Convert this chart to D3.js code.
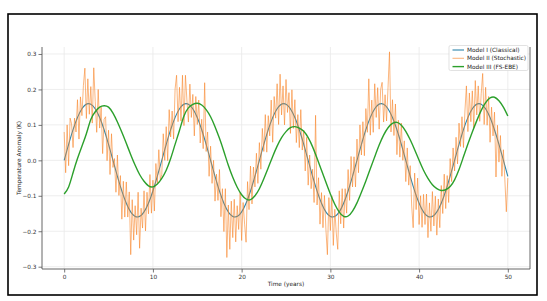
<!DOCTYPE html>
<html><head><meta charset="utf-8">
<script src="https://cdn.jsdelivr.net/npm/d3@7"></script>
<style>body{margin:0;background:#fff} text{font-family:"DejaVu Sans",sans-serif}</style>
</head><body><svg id="c" width="547" height="301"></svg>
<script>
const xTicks = [0, 10, 20, 30, 40, 50];
const yTicks = [-0.3, -0.2, -0.1, 0.0, 0.1, 0.2, 0.3];
const seriesNames = ["Model I (Classical)", "Model II (Stochastic)", "Model III (FS-EBE)"];
const seriesColors = ["#2e86ab", "#f8862a", "#2ca02c"];
const xLabel = "Time (years)";
const yLabel = "Temperature Anomaly (K)";

// Model I: yearly samples, t = 0..50
const modelIValues = [0,0.0865,0.1455,0.1584,0.1209,0.0451,-0.0451,-0.1209,-0.1584,-0.1455,-0.0865,
0,0.0865,0.1455,0.1584,0.1209,0.0451,-0.0451,-0.1209,-0.1584,-0.1455,-0.0865,
0,0.0865,0.1455,0.1584,0.1209,0.0451,-0.0451,-0.1209,-0.1584,-0.1455,-0.0865,
0,0.0865,0.1455,0.1584,0.1209,0.0451,-0.0451,-0.1209,-0.1584,-0.1455,-0.0865,
0,0.0865,0.1455,0.1584,0.1209,0.0451,-0.0451];

// Model II: samples every 2 months, t = 0..50
const modelIIValues = [
0.08,-0.035,0.10,-0.015,0.119,0.103,0.036,0.119,0.08,0.171,0.06,0.179,0.126,0.211,0.26,0.118,0.23,0.13,0.208,0.105,0.261,0.166,0.079,0.20,0.091,0.15,0.019,0.116,0.123,-0.001,0.085,-0.04,0.075,-0.02,0.005,-0.09,0.015,-0.099,-0.043,-0.166,-0.059,-0.16,-0.061,-0.16,-0.089,-0.266,-0.111,-0.225,-0.128,-0.21,-0.09,-0.248,-0.135,-0.191,-0.086,-0.199,-0.09,-0.151,-0.04,-0.149,-0.056,-0.143,-0.009,-0.065,0.03,-0.055,
-0.04,0.075,0.0,0.095,-0.001,0.143,0.066,0.139,0.06,0.201,0.24,0.109,0.206,0.111,0.24,0.098,0.24,0.17,0.108,0.215,0.121,0.186,0.069,0.18,0.101,0.17,0.049,0.116,0.033,0.219,0.025,0.08,-0.045,0.04,-0.065,0.0,-0.115,-0.039,-0.113,-0.026,-0.159,-0.08,-0.201,-0.08,-0.274,-0.126,-0.251,-0.115,-0.218,-0.11,-0.23,-0.128,-0.195,-0.091,-0.226,-0.119,-0.18,-0.231,-0.06,-0.139,-0.016,-0.123,-0.019,-0.075,0.02,-0.065,
0.05,-0.025,0.09,0.025,0.129,0.023,0.126,0.069,0.17,0.051,0.18,0.119,0.216,0.101,0.243,0.128,0.21,0.10,0.228,0.135,0.191,0.076,0.199,0.09,0.171,0.05,0.129,0.036,0.143,0.029,0.085,-0.03,0.065,-0.07,0.015,-0.08,-0.025,-0.119,0.127,-0.126,-0.049,-0.18,-0.091,-0.19,-0.099,-0.196,-0.266,-0.105,-0.198,-0.10,-0.24,-0.138,-0.205,-0.251,-0.086,-0.179,-0.08,-0.191,-0.08,-0.149,-0.026,-0.113,0.011,-0.075,0.01,-0.075,
0.06,-0.035,0.10,0.015,0.109,0.013,0.146,0.079,0.23,0.071,0.17,0.079,0.216,0.121,0.205,0.088,0.20,0.22,0.108,0.185,0.111,0.206,0.306,0.08,0.171,0.07,0.159,0.016,0.113,0.009,0.105,0.0,0.055,-0.06,0.035,-0.07,-0.015,-0.129,-0.19,-0.036,-0.139,-0.05,-0.181,-0.10,-0.189,-0.096,-0.181,-0.095,-0.218,-0.12,-0.20,-0.088,-0.185,-0.101,-0.211,-0.109,-0.19,-0.071,-0.15,-0.039,-0.136,-0.043,-0.119,0.005,-0.06,0.035,
-0.03,0.065,-0.01,0.105,0.039,0.123,0.036,0.139,0.21,0.081,0.19,0.109,0.196,0.091,0.225,0.128,0.21,0.11,0.188,0.245,0.101,0.206,0.099,0.18,0.051,0.15,0.069,0.136,-0.047,0.099,-0.005,0.07,-0.045,0.03,-0.055,-0.145,-0.05];

// Model III: half-yearly samples, t = 0..50
const modelIIIValues = [-0.095,-0.075,-0.035,0.005,0.04,0.075,0.115,0.137,0.15,0.154,0.15,0.133,0.108,0.079,0.048,0.016,-0.014,-0.04,-0.059,-0.072,-0.075,-0.067,-0.051,-0.028,0.005,0.045,0.085,0.125,0.148,0.158,0.161,0.156,0.143,0.123,0.095,0.062,0.025,-0.014,-0.048,-0.076,-0.097,-0.109,-0.111,-0.1,-0.08,-0.052,-0.021,0.011,0.04,0.064,0.081,0.092,0.095,0.091,0.082,0.064,0.038,0.006,-0.028,-0.062,-0.095,-0.124,-0.146,-0.158,-0.157,-0.143,-0.12,-0.09,-0.058,-0.024,0.01,0.043,0.071,0.092,0.104,0.107,0.099,0.082,0.058,0.03,0.0,-0.028,-0.051,-0.069,-0.08,-0.085,-0.083,-0.074,-0.055,-0.026,0.01,0.046,0.08,0.112,0.141,0.163,0.176,0.178,0.168,0.15,0.125];

const svg = d3.select("#c");
svg.append("rect").attr("width",547).attr("height",301).attr("fill","#fff");
svg.append("rect").attr("x",8).attr("y",14).attr("width",529).attr("height",281)
  .attr("fill","none").attr("stroke","#000").attr("stroke-width",1.6);

const L=42, R=530, T=47, B=269;
const x = d3.scaleLinear().domain([-2.5,52.5]).range([L,R]);
const y = d3.scaleLinear().domain([-0.3065,0.3197]).range([B,T]);

// grid
const g = svg.append("g");
g.selectAll(".gx").data(xTicks).join("line").attr("x1",d=>x(d)).attr("x2",d=>x(d)).attr("y1",T).attr("y2",B)
  .attr("stroke","#e8e8e8").attr("stroke-width",0.8);
g.selectAll(".gy").data(yTicks).join("line").attr("y1",d=>y(d)).attr("y2",d=>y(d)).attr("x1",L).attr("x2",R)
  .attr("stroke","#e8e8e8").attr("stroke-width",0.8);

svg.append("clipPath").attr("id","cp").append("rect").attr("x",L).attr("y",T).attr("width",R-L).attr("height",B-T);
const plot = svg.append("g").attr("clip-path","url(#cp)");

const line1 = d3.line().x((d,i)=>x(i)).y(d=>y(d)).curve(d3.curveNatural);
const line2 = d3.line().x((d,i)=>x(i/6)).y(d=>y(d));
const line3 = d3.line().x((d,i)=>x(i/2)).y(d=>y(d)).curve(d3.curveNatural);

plot.append("path").attr("d",line1(modelIValues)).attr("fill","none").attr("stroke",seriesColors[0]).attr("stroke-width",1.1);
plot.append("path").attr("d",line2(modelIIValues)).attr("fill","none").attr("stroke",seriesColors[1]).attr("stroke-opacity",0.6).attr("stroke-width",1);
plot.append("path").attr("d",line3(modelIIIValues)).attr("fill","none").attr("stroke",seriesColors[2]).attr("stroke-width",1.4);

// axes
const fs = 5.8;
const ax = svg.append("g").attr("transform",`translate(0,${B})`)
  .call(d3.axisBottom(x).tickValues(xTicks).tickFormat(d3.format("d")).tickSize(3.5).tickPadding(2));
const ay = svg.append("g").attr("transform",`translate(${L},0)`)
  .call(d3.axisLeft(y).tickValues(yTicks).tickFormat(d3.format(".1f")).tickSize(3.5).tickPadding(2));
[ax,ay].forEach(a=>{
  a.select(".domain").remove();
  a.selectAll("line").attr("stroke","#555").attr("stroke-width",0.8);
  a.selectAll("text").attr("font-size",fs).attr("fill","#333").attr("font-family","DejaVu Sans");
});
// spines
svg.append("line").attr("x1",L).attr("x2",L).attr("y1",T).attr("y2",B).attr("stroke","#555").attr("stroke-width",0.9);
svg.append("line").attr("x1",L).attr("x2",R).attr("y1",B).attr("y2",B).attr("stroke","#555").attr("stroke-width",0.9);
svg.append("line").attr("x1",R).attr("x2",R).attr("y1",T).attr("y2",B).attr("stroke","#555").attr("stroke-width",0.9);

svg.append("text").attr("x",(L+R)/2).attr("y",285.5).attr("text-anchor","middle").attr("font-size",fs).attr("fill","#222").text(xLabel);
svg.append("text").attr("transform","translate(21,158) rotate(-90)").attr("text-anchor","middle").attr("font-size",fs).attr("fill","#222").text(yLabel);

// legend
const lg = svg.append("g");
lg.append("rect").attr("x",449).attr("y",45.5).attr("width",79).attr("height",25).attr("rx",1.5)
  .attr("fill","#fff").attr("fill-opacity",0.85).attr("stroke","#d5d5d5").attr("stroke-width",0.7);
seriesNames.forEach((n,i)=>{
  const yy = 50 + i*8.3;
  lg.append("line").attr("x1",452.5).attr("x2",464).attr("y1",yy).attr("y2",yy)
    .attr("stroke",seriesColors[i]).attr("stroke-width",i===2?1.4:1.1).attr("stroke-opacity",i===1?0.6:1);
  lg.append("text").attr("x",467).attr("y",yy).attr("dy","0.35em").attr("font-size",fs).attr("fill","#222").text(n);
});
</script></body></html>
